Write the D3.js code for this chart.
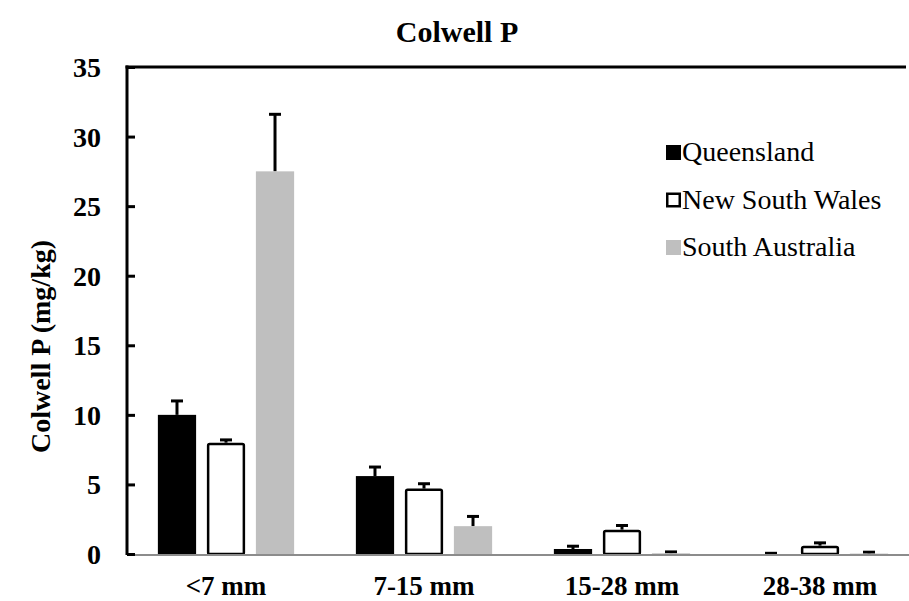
<!DOCTYPE html>
<html>
<head>
<meta charset="utf-8">
<script src="https://cdn.jsdelivr.net/npm/d3@7"></script>
<style>
  body { margin: 0; background: #fff; }
</style>
</head>
<body>
<div id="chart"></div>
<script>
// Colwell P bar chart

const width = 909;
const height = 601;
const margin = { top: 67, right: -10, bottom: 47, left: 127 };
const serif = "'Liberation Serif', 'Times New Roman', 'DejaVu Serif', serif";

const sizeClasses = ["<7 mm", "7-15 mm", "15-28 mm", "28-38 mm"];
const states = ["Queensland", "New South Wales", "South Australia"];
const queensland = [10.0, 5.6, 0.36, 0.0];
const newSouthWales = [8.0, 4.7, 1.75, 0.6];
const southAustralia = [27.5, 2.0, 0.05, 0.03];
const qldErr = [1.0, 0.65, 0.2, 0.05];
const nswErr = [0.2, 0.35, 0.3, 0.2];
const saErr = [4.1, 0.7, 0.1, 0.1];
const yTicks = [0, 5, 10, 15, 20, 25, 30, 35];

const seriesValues = [queensland, newSouthWales, southAustralia];
const seriesErrors = [qldErr, nswErr, saErr];
const fills = ["#000000", "#ffffff", "#bfbfbf"];

const svg = d3.select("#chart")
  .append("svg")
  .attr("width", width)
  .attr("height", height)
  .style("font-family", serif);

const x0 = d3.scaleBand()
  .domain(sizeClasses)
  .range([margin.left, width - margin.right]);

const x1 = d3.scaleBand()
  .domain(states)
  .range([0, x0.bandwidth()])
  .paddingInner(0.22)
  .paddingOuter(0.63);

const y = d3.scaleLinear()
  .domain([0, 35])
  .range([height - margin.bottom, margin.top]);

// Title
svg.append("text")
  .attr("x", 457)
  .attr("y", 42)
  .attr("text-anchor", "middle")
  .attr("font-family", serif)
  .attr("font-size", 30)
  .attr("font-weight", "bold")
  .text("Colwell P");

// Bars + error bars
const data = [];
sizeClasses.forEach((c, i) => {
  states.forEach((s, j) => {
    data.push({ cls: c, state: s, k: j, v: seriesValues[j][i], e: seriesErrors[j][i] });
  });
});

const g = svg.append("g");

data.forEach(d => {
  const bx = x0(d.cls) + x1(d.state);
  const bw = x1.bandwidth();
  const cx = bx + bw / 2;
  // error bar (upper only)
  if (d.e > 0) {
    g.append("line")
      .attr("x1", cx).attr("x2", cx)
      .attr("y1", y(d.v)).attr("y2", y(d.v + d.e))
      .attr("stroke", "#000").attr("stroke-width", 3);
    g.append("line")
      .attr("x1", cx - 6).attr("x2", cx + 6)
      .attr("y1", y(d.v + d.e)).attr("y2", y(d.v + d.e))
      .attr("stroke", "#000").attr("stroke-width", 3);
  }
  if (d.k === 1) {
    g.append("rect")
      .attr("x", bx + 1.25)
      .attr("y", y(d.v) + 1.25)
      .attr("width", bw - 2.5)
      .attr("height", Math.max(0, y(0) - y(d.v) - 1.25))
      .attr("rx", 1.5)
      .attr("fill", "#fff")
      .attr("stroke", "#000")
      .attr("stroke-width", 2.5);
  } else {
    g.append("rect")
      .attr("x", bx)
      .attr("y", y(d.v))
      .attr("width", bw)
      .attr("height", y(0) - y(d.v))
      .attr("fill", fills[d.k]);
  }
});

// x baseline (grey)
svg.append("line")
  .attr("x1", margin.left)
  .attr("x2", width)
  .attr("y1", y(0) + 1)
  .attr("y2", y(0) + 1)
  .attr("stroke", "#8c8c8c")
  .attr("stroke-width", 2);

// y axis ticks (inside)
const yAxis = d3.axisRight(y)
  .tickValues(yTicks)
  .tickSize(8)
  .tickFormat("");

const ya = svg.append("g")
  .attr("transform", `translate(${margin.left},0)`)
  .call(yAxis);
ya.select(".domain").remove();
ya.selectAll(".tick line").attr("stroke", "#000").attr("stroke-width", 3);

svg.append("line")
  .attr("x1", margin.left).attr("x2", margin.left)
  .attr("y1", y(35) - 1.5).attr("y2", y(0) + 1)
  .attr("stroke", "#000").attr("stroke-width", 3);

// top border
svg.append("line")
  .attr("x1", margin.left - 1.5).attr("x2", 906)
  .attr("y1", y(35)).attr("y2", y(35))
  .attr("stroke", "#000").attr("stroke-width", 3);

// y tick labels
svg.selectAll("text.ylab")
  .data(yTicks)
  .enter()
  .append("text")
  .attr("class", "ylab")
  .attr("x", 101)
  .attr("y", d => y(d) + 10)
  .attr("text-anchor", "end")
  .attr("font-family", serif)
  .attr("font-size", 28)
  .attr("font-weight", "bold")
  .text(d => d);

// x tick labels
svg.selectAll("text.xlab")
  .data(sizeClasses)
  .enter()
  .append("text")
  .attr("class", "xlab")
  .attr("x", d => x0(d) + x0.bandwidth() / 2)
  .attr("y", 595)
  .attr("text-anchor", "middle")
  .attr("font-family", serif)
  .attr("font-size", 27)
  .attr("font-weight", "bold")
  .text(d => d);

// y axis title
svg.append("text")
  .attr("transform", `translate(50,${(y(0) + y(35)) / 2 + 36}) rotate(-90)`)
  .attr("text-anchor", "middle")
  .attr("font-family", serif)
  .attr("font-size", 28)
  .attr("font-weight", "bold")
  .text("Colwell P (mg/kg)");

// legend
const legend = svg.append("g").attr("transform", "translate(666,0)");
states.forEach((s, j) => {
  const ly = 152 + j * 47.5;
  if (j === 1) {
    legend.append("rect")
      .attr("x", 1.25).attr("y", ly - 5.75)
      .attr("width", 12.5).attr("height", 12.5)
      .attr("fill", "#fff").attr("stroke", "#000").attr("stroke-width", 2.5);
  } else {
    legend.append("rect")
      .attr("x", 0).attr("y", ly - 7)
      .attr("width", 15).attr("height", 15)
      .attr("fill", fills[j]);
  }
  legend.append("text")
    .attr("x", 16)
    .attr("y", ly + 9)
    .attr("font-family", serif)
    .attr("font-size", 28)
    .text(s);
});
</script>
</body>
</html>
